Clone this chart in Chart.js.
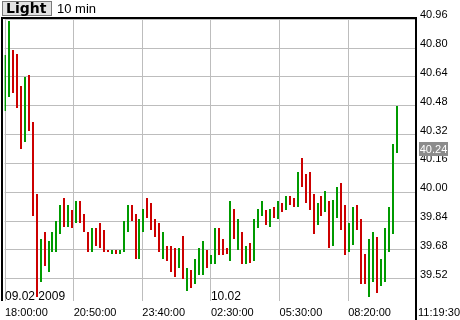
<!DOCTYPE html>
<html>
<head>
<meta charset="utf-8">
<script src="https://cdn.jsdelivr.net/npm/chart.js@4.4.1/dist/chart.umd.min.js"></script>
<style>
  body { margin: 0; background: #fff; }
</style>
</head>
<body>
<canvas id="chart" width="460" height="320"></canvas>
<script>
// 10 min bars, 09.02.2009 18:00 -> 10.02 morning
var highs = [40.76, 40.95, 40.79, 40.77, 40.59, 40.64, 40.65, 40.39, 39.99, 39.74,
             39.78, 39.73, 39.78, 39.84, 39.93, 39.97, 39.93, 39.90, 39.95, 39.95,
             39.88, 39.78, 39.80, 39.80, 39.83, 39.79, 39.68, 39.68, 39.68, 39.68,
             39.84, 39.93, 39.93, 39.88, 39.85, 39.91, 39.97, 39.94, 39.85, 39.83,
             39.78, 39.70, 39.70, 39.69, 39.69, 39.76, 39.58, 39.57, 39.63, 39.69,
             39.73, 39.68, 39.65, 39.80, 39.80, 39.74, 39.69, 39.95, 39.91, 39.85,
             39.78, 39.70, 39.72, 39.85, 39.91, 39.95, 39.90, 39.91, 39.92, 39.95,
             39.94, 39.98, 39.98, 39.97, 40.11, 40.19, 40.10, 40.11, 39.99, 39.94,
             39.98, 40.01, 39.95, 39.96, 40.03, 40.05, 39.93, 39.83, 39.92, 39.93,
             39.85, 39.66, 39.74, 39.78, 39.75, 39.63, 39.80, 39.92, 40.27, 40.48];
var lows = [40.45, 40.53, 40.55, 40.47, 40.24, 40.28, 40.34, 39.87, 39.42, 39.50,
            39.59, 39.56, 39.67, 39.67, 39.77, 39.81, 39.81, 39.80, 39.83, 39.83,
            39.78, 39.67, 39.67, 39.70, 39.69, 39.67, 39.67, 39.66, 39.66, 39.66,
            39.67, 39.78, 39.84, 39.63, 39.63, 39.78, 39.86, 39.79, 39.75, 39.67,
            39.63, 39.62, 39.56, 39.53, 39.58, 39.52, 39.45, 39.47, 39.49, 39.54,
            39.54, 39.58, 39.60, 39.60, 39.65, 39.65, 39.66, 39.62, 39.74, 39.68,
            39.60, 39.60, 39.61, 39.62, 39.80, 39.87, 39.82, 39.81, 39.86, 39.85,
            39.89, 39.90, 39.93, 39.92, 39.92, 40.03, 39.94, 39.90, 39.77, 39.82,
            39.87, 39.89, 39.69, 39.70, 39.86, 39.79, 39.65, 39.67, 39.71, 39.79,
            39.49, 39.49, 39.42, 39.50, 39.44, 39.48, 39.50, 39.67, 39.77, 40.22];
// 1 = closed up (green), 0 = closed down (red)
var ups = [1, 1, 0, 0, 0, 1, 0, 0, 0, 1,
           0, 1, 1, 1, 1, 0, 1, 0, 1, 0,
           0, 0, 1, 0, 0, 0, 0, 1, 0, 1,
           1, 1, 0, 0, 1, 1, 0, 0, 0, 0,
           1, 0, 0, 0, 1, 0, 1, 0, 1, 1,
           1, 0, 1, 1, 0, 0, 0, 1, 0, 1,
           0, 1, 0, 1, 1, 1, 0, 1, 0, 1,
           0, 1, 0, 0, 1, 0, 0, 0, 0, 1,
           0, 1, 0, 1, 1, 0, 0, 1, 1, 0,
           0, 0, 1, 1, 0, 1, 1, 1, 1, 1];

var timeLabels = ['18:00:00', '20:50:00', '23:40:00', '02:30:00', '05:30:00', '08:20:00'];
var dateLabels = ['09.02 2009', '10.02'];
var dateAt = [0, 3]; // which time label each date sits on
var priceTicks = [39.52, 39.68, 39.84, 40.00, 40.16, 40.32, 40.48, 40.64, 40.80, 40.96];
var lastPrice = 40.24;
var lastTime = '11:19:30';
var barsPerGrid = 17.35;

var GREEN = '#009a00';
var RED = '#cc0000';

var points = [];
var colors = [];
for (var i = 0; i < highs.length; i++) {
    points.push({ x: i, y: [lows[i], highs[i]] });
    colors.push(ups[i] ? GREEN : RED);
}

// snap the 2px bars onto whole pixels so they stay crisp
var snap = {
    id: 'snap',
    afterDatasetsUpdate: function (chart) {
        chart.getDatasetMeta(0).data.forEach(function (bar) {
            bar.x = Math.round(bar.x);
            bar.y = Math.round(bar.y);
            bar.base = Math.round(bar.base);
        });
    }
};

var extras = {
    id: 'extras',
    afterDraw: function (chart) {
        var ctx = chart.ctx;
        var a = chart.chartArea;
        var y = chart.scales.y;
        var x = chart.scales.x;
        ctx.save();

        // frame
        ctx.fillStyle = '#000';
        ctx.fillRect(1, a.top - 1, 2, a.bottom - a.top + 1);
        ctx.fillRect(1, a.top - 1, a.right - 1, 2);
        ctx.fillRect(a.right - 1, a.top - 1, 2, chart.height - a.top + 1);

        // date labels inside the plot
        ctx.font = '12px "Liberation Sans"';
        ctx.textBaseline = 'alphabetic';
        ctx.textAlign = 'left';
        ctx.fillStyle = '#000';
        for (var k = 0; k < dateLabels.length; k++) {
            var px = x.getPixelForValue(dateAt[k] * barsPerGrid);
            ctx.fillText(dateLabels[k], Math.max(px, a.left), a.bottom - 1);
        }

        // time of last update
        ctx.font = '11px "Liberation Sans"';
        ctx.textBaseline = 'top';
        ctx.fillText(lastTime, a.right + 2, a.bottom + 6);

        // last price badge
        var py = Math.round(y.getPixelForValue(lastPrice));
        ctx.fillStyle = '#8c8c8c';
        ctx.fillRect(a.right + 3, py - 7, 29, 14);
        ctx.fillStyle = '#fff';
        ctx.textAlign = 'center';
        ctx.textBaseline = 'middle';
        ctx.fillText(lastPrice.toFixed(2), a.right + 17.5, py + 0.5);

        // toolbar
        ctx.fillStyle = '#e2e2e2';
        ctx.fillRect(2, 1, 50, 15);
        ctx.strokeStyle = '#7a7a7a';
        ctx.lineWidth = 1;
        ctx.strokeRect(2.5, 1.5, 49, 14);
        ctx.fillStyle = '#000';
        ctx.textAlign = 'left';
        ctx.textBaseline = 'alphabetic';
        ctx.font = 'bold 14px "DejaVu Sans"';
        ctx.fillText('Light', 6, 13);
        ctx.font = '13px "Liberation Sans"';
        ctx.fillText('10 min', 57, 13);

        ctx.restore();
    }
};

var chart = new Chart(document.getElementById('chart'), {
    type: 'bar',
    data: {
        datasets: [{
            data: points,
            backgroundColor: colors,
            borderWidth: 0,
            borderSkipped: false,
            inflateAmount: 0,
            barThickness: 2
        }]
    },
    options: {
        responsive: false,
        animation: false,
        events: [],
        layout: { padding: { left: 3, top: 18, right: 0, bottom: 0 } },
        plugins: { legend: { display: false }, tooltip: { enabled: false } },
        scales: {
            x: {
                type: 'linear',
                offset: false,
                min: -0.1,
                max: 103.9,
                border: { display: false },
                grid: { color: '#bdbdbd', lineWidth: 1, drawTicks: false, offset: false },
                afterBuildTicks: function (scale) {
                    scale.ticks = timeLabels.map(function (t, k) { return { value: k * barsPerGrid }; });
                },
                afterFit: function (scale) { scale.height = 19; },
                ticks: {
                    autoSkip: false,
                    maxRotation: 0,
                    align: 'start',
                    padding: 5,
                    color: '#000',
                    font: { family: 'Liberation Sans', size: 11 },
                    callback: function (v, k) { return timeLabels[k]; }
                }
            },
            y: {
                position: 'right',
                min: 39.397,
                max: 40.967,
                border: { display: false },
                grid: { color: '#bdbdbd', lineWidth: 1, drawTicks: false },
                afterBuildTicks: function (scale) {
                    scale.ticks = priceTicks.map(function (v) { return { value: v }; });
                },
                afterFit: function (scale) { scale.width = 44; },
                ticks: {
                    padding: 4,
                    labelOffset: -4,
                    color: '#000',
                    font: { family: 'Liberation Sans', size: 11 },
                    callback: function (v) { return v.toFixed(2); }
                }
            }
        }
    },
    plugins: [snap, extras]
});
</script>
</body>
</html>
